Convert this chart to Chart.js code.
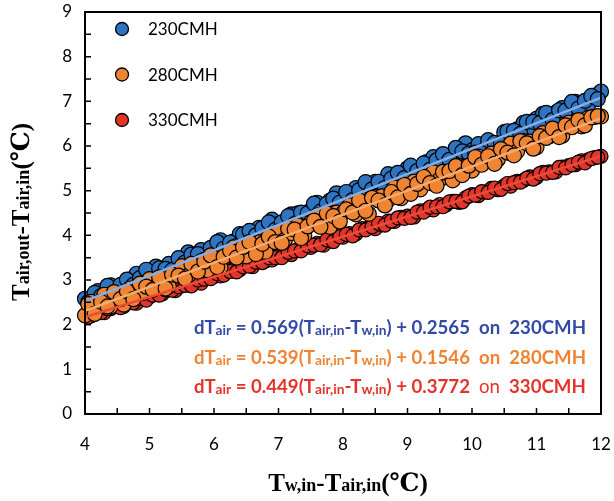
<!DOCTYPE html>
<html>
<head>
<meta charset="utf-8">
<script src="https://cdn.jsdelivr.net/npm/chart.js@4.4.1/dist/chart.umd.min.js"></script>
<style>
html, body { margin: 0; padding: 0; background: #fff; }
#wrap { width: 614px; height: 501px; position: relative; }
</style>
</head>
<body>
<div id="wrap"><canvas id="grafico"></canvas></div>
<script>
const xs = [4.0, 4.1, 4.2, 4.3, 4.4, 4.5, 4.6, 4.7, 4.8, 4.9,
  5.0, 5.1, 5.2, 5.3, 5.4, 5.5, 5.6, 5.7, 5.8, 5.9,
  6.0, 6.1, 6.2, 6.3, 6.4, 6.5, 6.6, 6.7, 6.8, 6.9,
  7.0, 7.1, 7.2, 7.3, 7.4, 7.5, 7.6, 7.7, 7.8, 7.9,
  8.0, 8.1, 8.2, 8.3, 8.4, 8.5, 8.6, 8.7, 8.8, 8.9,
  9.0, 9.1, 9.2, 9.3, 9.4, 9.5, 9.6, 9.7, 9.8, 9.9,
  10.0, 10.1, 10.2, 10.3, 10.4, 10.5, 10.6, 10.7, 10.8, 10.9,
  11.0, 11.1, 11.2, 11.3, 11.4, 11.5, 11.6, 11.7, 11.8, 11.9, 12.0]

const xsB = [4.05, 4.15, 4.25, 4.35, 4.45, 4.55, 4.65, 4.75, 4.85, 4.95,
  5.05, 5.15, 5.25, 5.35, 5.45, 5.55, 5.65, 5.75, 5.85, 5.95,
  6.05, 6.15, 6.25, 6.35, 6.45, 6.55, 6.65, 6.75, 6.85, 6.95,
  7.05, 7.15, 7.25, 7.35, 7.45, 7.55, 7.65, 7.75, 7.85, 7.95,
  8.05, 8.15, 8.25, 8.35, 8.45, 8.55, 8.65, 8.75, 8.85, 8.95,
  9.05, 9.15, 9.25, 9.35, 9.45, 9.55, 9.65, 9.75, 9.85, 9.95,
  10.05, 10.15, 10.25, 10.35, 10.45, 10.55, 10.65, 10.75, 10.85, 10.95,
  11.05, 11.15, 11.25, 11.35, 11.45, 11.55, 11.65, 11.75, 11.85, 11.95]

// 230CMH
const y230 = [2.58, 2.51, 2.75, 2.68, 2.88, 2.82, 2.77, 3.01, 3.14, 2.99,
  3.13, 3.30, 3.16, 3.36, 3.21, 3.45, 3.62, 3.47, 3.67, 3.52,
  3.74, 3.89, 3.74, 3.86, 4.03, 3.85, 4.06, 4.17, 4.06, 4.35,
  4.25, 4.25, 4.47, 4.49, 4.34, 4.56, 4.73, 4.62, 4.78, 4.94,
  4.75, 4.90, 5.06, 4.88, 5.11, 5.20, 5.11, 5.37, 5.28, 5.24,
  5.50, 5.48, 5.37, 5.64, 5.75, 5.63, 5.78, 5.69, 5.93, 6.06,
  5.90, 6.04, 5.92, 5.94, 6.07, 6.31, 6.14, 6.37, 6.52, 6.39,
  6.61, 6.72, 6.59, 6.75, 6.85, 6.78, 6.99, 6.96, 6.91, 7.13, 7.22]
const y230B = [2.50, 2.71, 2.64, 2.87, 2.69, 2.89, 3.01, 2.89, 3.04, 3.23,
  3.01, 3.26, 3.25, 3.22, 3.49, 3.39, 3.57, 3.58, 3.45, 3.72,
  3.85, 3.70, 3.84, 3.76, 4.02, 4.10, 4.00, 4.16, 4.29, 4.12,
  4.29, 4.43, 4.25, 4.51, 4.49, 4.71, 4.53, 4.71, 4.82, 4.73,
  4.97, 4.79, 5.01, 5.19, 5.03, 5.20, 5.06, 5.27, 5.40, 5.28,
  5.56, 5.44, 5.61, 5.47, 5.68, 5.82, 5.69, 5.96, 5.88, 5.83,
  5.85, 5.87, 6.13, 6.07, 6.06, 6.33, 6.34, 6.27, 6.54, 6.54,
  6.51, 6.74, 6.58, 6.80, 6.79, 6.99, 6.84, 7.01, 7.12, 7.05]

// 280CMH
const y280 = [2.21, 2.51, 2.37, 2.67, 2.41, 2.66, 2.45, 2.81, 2.76, 2.71,
  3.02, 2.86, 3.06, 2.86, 3.12, 3.31, 3.10, 3.26, 3.42, 3.22,
  3.48, 3.28, 3.55, 3.73, 3.58, 3.53, 3.82, 3.84, 3.63, 3.91,
  4.09, 3.90, 4.05, 4.22, 4.00, 4.29, 4.45, 4.24, 4.19, 4.51,
  4.50, 4.67, 4.47, 4.69, 4.48, 4.86, 4.87, 4.79, 5.07, 4.83,
  5.03, 5.20, 5.03, 5.27, 5.41, 5.25, 5.40, 5.23, 5.55, 5.54,
  5.45, 5.76, 5.67, 5.83, 5.70, 5.90, 6.05, 5.88, 6.11, 6.10,
  5.97, 6.29, 6.22, 6.35, 6.23, 6.52, 6.47, 6.44, 6.63, 6.65, 6.66]
const y280B = [2.46, 2.24, 2.51, 2.41, 2.73, 2.57, 2.75, 2.57, 2.92, 2.85,
  2.78, 3.06, 2.81, 3.12, 3.10, 3.03, 3.36, 3.19, 3.41, 3.55,
  3.29, 3.52, 3.66, 3.50, 3.74, 3.85, 3.58, 3.81, 3.97, 3.85,
  3.83, 4.15, 4.13, 3.94, 4.20, 4.33, 4.19, 4.49, 4.43, 4.31,
  4.58, 4.51, 4.78, 4.55, 4.84, 4.78, 4.67, 4.97, 4.85, 5.13,
  4.93, 5.15, 5.31, 5.17, 5.11, 5.42, 5.44, 5.55, 5.35, 5.56,
  5.75, 5.58, 5.77, 5.60, 5.93, 5.85, 5.79, 6.11, 6.06, 5.94,
  6.22, 6.18, 6.39, 6.20, 6.46, 6.42, 6.58, 6.46, 6.64, 6.67]

// 330CMH
const y330 = [2.20, 2.20, 2.30, 2.27, 2.36, 2.45, 2.41, 2.51, 2.48, 2.61,
  2.62, 2.71, 2.69, 2.81, 2.76, 2.87, 2.92, 2.93, 2.93, 3.07,
  3.08, 3.09, 3.21, 3.23, 3.23, 3.34, 3.30, 3.42, 3.43, 3.45,
  3.57, 3.58, 3.57, 3.68, 3.74, 3.73, 3.82, 3.78, 3.89, 3.96,
  3.96, 4.04, 4.03, 4.15, 4.17, 4.15, 4.24, 4.32, 4.31, 4.40,
  4.43, 4.41, 4.55, 4.57, 4.57, 4.69, 4.68, 4.76, 4.74, 4.84,
  4.91, 4.89, 4.97, 5.05, 5.02, 5.11, 5.10, 5.21, 5.23, 5.31,
  5.30, 5.41, 5.42, 5.42, 5.53, 5.56, 5.58, 5.67, 5.69, 5.74, 5.77]
const y330B = [2.17, 2.28, 2.27, 2.36, 2.42, 2.38, 2.48, 2.49, 2.59, 2.55,
  2.66, 2.66, 2.78, 2.77, 2.85, 2.88, 2.87, 3.00, 3.02, 3.03,
  3.14, 3.11, 3.19, 3.18, 3.30, 3.31, 3.40, 3.39, 3.50, 3.50,
  3.50, 3.62, 3.65, 3.65, 3.77, 3.78, 3.79, 3.90, 3.86, 3.97,
  4.02, 3.99, 4.12, 4.12, 4.19, 4.27, 4.23, 4.32, 4.39, 4.38,
  4.40, 4.52, 4.52, 4.63, 4.64, 4.64, 4.75, 4.76, 4.75, 4.88,
  4.90, 4.98, 4.96, 5.06, 5.03, 5.16, 5.18, 5.19, 5.28, 5.26,
  5.38, 5.39, 5.41, 5.52, 5.51, 5.58, 5.64, 5.62, 5.72, 5.75]

const series = ['230CMH', '280CMH', '330CMH']
const fitX = [4, 12]
const fit230 = [2.53, 7.08]
const fit280 = [2.31, 6.62]
const fit330 = [2.17, 5.77]
const slopes = ['0.569', '0.539', '0.449']
const intercepts = ['0.2565', '0.1546', '0.3772']

const pointColors = ['#2e74c0', '#ef8533', '#e3342a']
const lineColors = ['#86aee2', '#f5aa70', '#ee4a38']
const eqColors = ['#3349a6', '#f08232', '#e5332b']

function pts(xv, yv) {
  return xv.map((x, i) => ({ x: x, y: yv[i] }))
}

// text made of pieces with different fonts
function runsWidth(ctx, runs) {
  let w = 0
  runs.forEach(r => { ctx.font = r.font; w += ctx.measureText(r.t).width })
  return w
}
function drawRuns(ctx, runs, x, y) {
  runs.forEach(r => {
    ctx.font = r.font
    ctx.fillText(r.t, x, y + (r.dy || 0))
    x += ctx.measureText(r.t).width
  })
}

const extras = {
  id: 'extras',
  afterDraw(chart) {
    const ctx = chart.ctx
    const a = chart.chartArea
    const sx = chart.scales.x, sy = chart.scales.y
    ctx.save()

    // frame + inward ticks
    ctx.strokeStyle = '#000'
    ctx.lineWidth = 2
    ctx.strokeRect(a.left, a.top, a.right - a.left, a.bottom - a.top)
    ctx.lineWidth = 1.5
    ctx.beginPath()
    for (let v = sx.min + 0.5; v < sx.max; v += 0.5) {
      const px = sx.getPixelForValue(v)
      ctx.moveTo(px, a.bottom)
      ctx.lineTo(px, a.bottom - 6)
    }
    for (let v = sy.min + 0.5; v < sy.max; v += 0.5) {
      const py = sy.getPixelForValue(v)
      ctx.moveTo(a.left, py)
      ctx.lineTo(a.left + 6, py)
    }
    ctx.stroke()

    // legend
    ctx.textBaseline = 'middle'
    ctx.textAlign = 'left'
    series.forEach((s, i) => {
      const cy = a.top + 17 + i * 45.5
      ctx.beginPath()
      ctx.arc(a.left + 37, cy, 6.5, 0, Math.PI * 2)
      ctx.fillStyle = pointColors[i]
      ctx.fill()
      ctx.lineWidth = 1.3
      ctx.strokeStyle = '#000'
      ctx.stroke()
      ctx.fillStyle = '#000'
      ctx.font = '17px Lato'
      ctx.fillText(s, a.left + 63, cy + 1)
    })

    // equations
    ctx.textBaseline = 'alphabetic'
    const big = 'bold 19px Lato', small = 'bold 14px Lato'
    const eqRuns = series.map((s, i) => [
      { t: 'dT', font: big }, { t: 'air', font: small, dy: 1 },
      { t: ' = ' + slopes[i] + '(T', font: big }, { t: 'air,in', font: small, dy: 1 },
      { t: '-T', font: big }, { t: 'w,in', font: small, dy: 1 },
      { t: ') + ' + intercepts[i] + '  ', font: big },
      { t: 'on', font: i === 2 ? '19px Lato' : big },
      { t: '  ' + s, font: big }
    ])
    const k = 392 / runsWidth(ctx, eqRuns[0])
    eqRuns.forEach((runs, i) => {
      ctx.save()
      ctx.translate(194, 334 + i * 29.5)
      ctx.scale(k, 1)
      ctx.fillStyle = eqColors[i]
      drawRuns(ctx, runs, 0, 0)
      ctx.restore()
    })

    // axis titles
    ctx.fillStyle = '#000'
    const tb = 'bold 25px "Liberation Serif", "DejaVu Serif", serif'
    const ts = 'bold 18px "Liberation Serif", "DejaVu Serif", serif'
    const xt = [
      { t: 'T', font: tb }, { t: 'w,in', font: ts }, { t: '-T', font: tb },
      { t: 'air,in', font: ts }, { t: '(℃)', font: tb }
    ]
    const xw = runsWidth(ctx, xt)
    drawRuns(ctx, xt, 348 - xw / 2, 491)

    const yt = [
      { t: 'T', font: tb }, { t: 'air,out', font: ts }, { t: '-T', font: tb },
      { t: 'air,in', font: ts }, { t: '(℃)', font: tb }
    ]
    const yw = runsWidth(ctx, yt)
    ctx.translate(29, 212)
    ctx.rotate(-Math.PI / 2)
    drawRuns(ctx, yt, -yw / 2, 0)

    ctx.restore()
  }
}

const ctx = document.getElementById('grafico')

new Chart(ctx, {
  type: 'scatter',
  data: {
    datasets: [{
      label: 'fit ' + series[0],
      data: pts(fitX, fit230),
      showLine: true,
      borderColor: lineColors[0],
      borderWidth: 2.5,
      pointRadius: 0,
      order: 0
    }, {
      label: 'fit ' + series[1],
      data: pts(fitX, fit280),
      showLine: true,
      borderColor: lineColors[1],
      borderWidth: 2.5,
      pointRadius: 0,
      order: 0
    }, {
      label: 'fit ' + series[2],
      data: pts(fitX, fit330),
      showLine: true,
      borderColor: lineColors[2],
      borderWidth: 2.5,
      pointRadius: 0,
      order: 0
    }, {
      label: series[1],
      data: pts(xs, y280).concat(pts(xsB, y280B)),
      backgroundColor: pointColors[1],
      borderColor: '#000',
      borderWidth: 1.2,
      pointRadius: 7.5,
      clip: false,
      order: 1
    }, {
      label: series[0],
      data: pts(xs, y230).concat(pts(xsB, y230B)),
      backgroundColor: pointColors[0],
      borderColor: '#000',
      borderWidth: 1.2,
      pointRadius: 7.5,
      clip: false,
      order: 2
    }, {
      label: series[2],
      data: pts(xs, y330).concat(pts(xsB, y330B)),
      backgroundColor: pointColors[2],
      borderColor: '#000',
      borderWidth: 1.2,
      pointRadius: 7,
      clip: false,
      order: 3
    }]
  },
  options: {
    responsive: true,
    maintainAspectRatio: false,
    animation: false,
    layout: { padding: { top: 12, right: 13, left: 0, bottom: 0 } },
    plugins: {
      legend: { display: false },
      tooltip: { enabled: false }
    },
    scales: {
      x: {
        type: 'linear',
        min: 4,
        max: 12,
        grid: { display: false, drawTicks: false },
        border: { display: false },
        ticks: { stepSize: 1, color: '#000', padding: 20, font: { family: 'Lato', size: 17 } },
        afterFit: (s) => { s.height = 87; s.paddingLeft = 0; s.paddingRight = 0 }
      },
      y: {
        min: 0,
        max: 9,
        grid: { display: false, drawTicks: false },
        border: { display: false },
        ticks: { stepSize: 1, color: '#000', padding: 13, font: { family: 'Lato', size: 17 } },
        afterFit: (s) => { s.width = 85; s.paddingTop = 0; s.paddingBottom = 0 }
      }
    }
  },
  plugins: [extras]
})
</script>
</body>
</html>
